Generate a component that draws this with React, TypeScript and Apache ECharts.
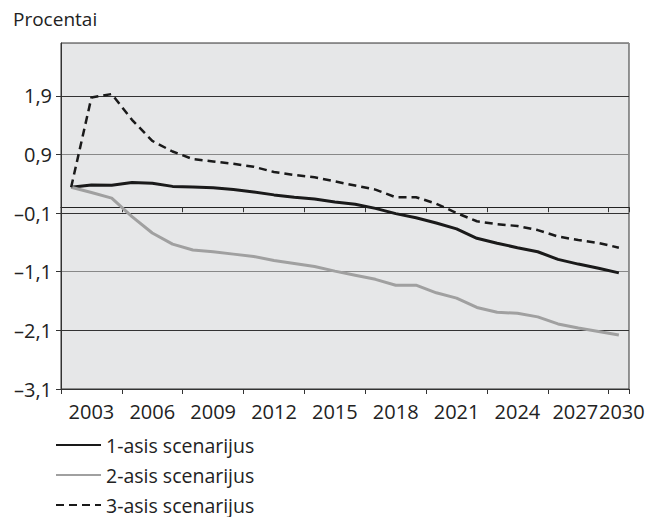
import React, { useEffect, useRef } from "react";
import * as echarts from "echarts";

const years = [
  "2002", "2003", "2004", "2005", "2006", "2007", "2008", "2009", "2010", "2011",
  "2012", "2013", "2014", "2015", "2016", "2017", "2018", "2019", "2020", "2021",
  "2022", "2023", "2024", "2025", "2026", "2027", "2028", "2029",
];

const xTickLabels = [
  "", "2003", "", "", "2006", "", "", "2009", "", "", "2012", "", "", "2015", "",
  "", "2018", "", "", "2021", "", "", "2024", "", "", "2027", "", "2030",
];

const scenario1 = [
  0.34, 0.38, 0.375, 0.42, 0.41, 0.355, 0.345, 0.33, 0.3, 0.26,
  0.21, 0.17, 0.14, 0.09, 0.05, -0.02, -0.11, -0.18, -0.27, -0.37,
  -0.53, -0.615, -0.69, -0.76, -0.89, -0.97, -1.04, -1.12,
];

const scenario2 = [
  0.34, 0.25, 0.155, -0.16, -0.44, -0.63, -0.73, -0.76, -0.8, -0.84,
  -0.91, -0.96, -1.01, -1.09, -1.16, -1.23, -1.33, -1.33, -1.46, -1.55,
  -1.71, -1.79, -1.81, -1.87, -1.99, -2.06, -2.12, -2.18,
];

const scenario3 = [
  0.34, 1.87, 1.93, 1.49, 1.13, 0.95, 0.82, 0.78, 0.74, 0.69,
  0.6, 0.55, 0.51, 0.44, 0.37, 0.3, 0.17, 0.17, 0.06, -0.1,
  -0.24, -0.29, -0.32, -0.39, -0.5, -0.56, -0.61, -0.69,
];

const seriesNames = ["1-asis scenarijus", "2-asis scenarijus", "3-asis scenarijus"];

const FONT = "'Open Sans', 'Noto Sans', sans-serif";
const TEXT = "#222";
const XFS = 20;

export default function App() {
  const ref = useRef<HTMLDivElement>(null);

  useEffect(() => {
    if (!ref.current) return;
    const chart = echarts.init(ref.current, undefined, { renderer: "svg" });
    const tickFn = (i: number) => i % 3 === 0;
    const lastIdx = xTickLabels.length - 1;
    chart.setOption({
      animation: false,
      textStyle: { fontFamily: FONT },
      title: {
        text: "Procentai",
        left: 13,
        top: 9,
        padding: 0,
        textStyle: { fontSize: 19, fontWeight: "normal", color: TEXT, fontFamily: FONT },
      },
      grid: {
        left: 61,
        right: 27,
        top: 43,
        bottom: 128,
        show: true,
        backgroundColor: "#e6e7e8",
        borderColor: "#333",
        borderWidth: 1,
        containLabel: false,
        outerBoundsMode: "none",
      },
      legend: {
        orient: "vertical",
        left: 55,
        top: 435,
        height: 140,
        padding: 0,
        itemWidth: 45,
        itemHeight: 14,
        itemGap: 10,
        data: seriesNames,
        itemStyle: { opacity: 0 },
        textStyle: { fontSize: 19.5, color: TEXT, fontFamily: FONT, lineHeight: 20 },
      },
      xAxis: [
        {
          type: "category",
          data: years,
          boundaryGap: true,
          position: "bottom",
          axisLine: { show: true, onZero: true, lineStyle: { color: "#222", width: 1 } },
          axisTick: { show: true, interval: tickFn, length: 5, lineStyle: { color: "#333" } },
          axisLabel: { show: false },
          splitLine: { show: false },
        },
        {
          type: "category",
          data: years,
          boundaryGap: true,
          position: "bottom",
          axisLine: { show: true, onZero: false, lineStyle: { color: "#333", width: 1 } },
          axisTick: { show: true, interval: tickFn, length: 5, lineStyle: { color: "#333" } },
          axisLabel: {
            show: true,
            interval: 0,
            margin: 12,
            fontSize: XFS,
            color: TEXT,
            fontFamily: FONT,
            formatter: (_v: string, i: number) => {
              const t = xTickLabels[i] ?? "";
              if (!t) return "";
              if (i === lastIdx) return "{r|" + t + "}";
              if (i === lastIdx - 2) return "{l|" + t + "}";
              return t;
            },
            rich: {
              r: { fontSize: XFS, fontFamily: FONT, color: TEXT, padding: [0, 0, 0, 6] },
              l: { fontSize: XFS, fontFamily: FONT, color: TEXT, padding: [0, 6, 0, 0] },
            },
          },
          splitLine: { show: false },
        },
      ],
      yAxis: {
        type: "value",
        min: -3.1,
        max: 2.8,
        interval: 1,
        axisLine: { show: true, onZero: false, lineStyle: { color: "#333" } },
        axisTick: { show: true, length: 5, lineStyle: { color: "#333" } },
        axisLabel: {
          showMaxLabel: false,
          margin: 9,
          fontSize: 20,
          color: TEXT,
          fontFamily: FONT,
          formatter: (v: number) => {
            const s = Math.abs(v).toFixed(1).replace(".", ",");
            return v < 0 ? "\u2013" + s : s;
          },
        },
        splitLine: { show: true, lineStyle: { color: ["#888", "#333"], width: 1 } },
      },
      series: [
        {
          name: seriesNames[0],
          type: "line",
          xAxisIndex: 0,
          data: scenario1,
          symbol: "none",
          lineStyle: { color: "#1a1a1a", width: 3 },
          itemStyle: { color: "#1a1a1a" },
        },
        {
          name: seriesNames[1],
          type: "line",
          xAxisIndex: 0,
          data: scenario2,
          symbol: "none",
          lineStyle: { color: "#a0a0a0", width: 3 },
          itemStyle: { color: "#a0a0a0" },
        },
        {
          name: seriesNames[2],
          type: "line",
          xAxisIndex: 0,
          data: scenario3,
          symbol: "none",
          lineStyle: { color: "#1a1a1a", width: 2.5, type: [8, 5] },
          itemStyle: { color: "#1a1a1a" },
        },
      ],
    });
    return () => chart.dispose();
  }, []);

  return (
    <div
      ref={ref}
      style={{ position: "fixed", left: 0, top: 0, width: 656, height: 517, background: "#fff" }}
    />
  );
}
